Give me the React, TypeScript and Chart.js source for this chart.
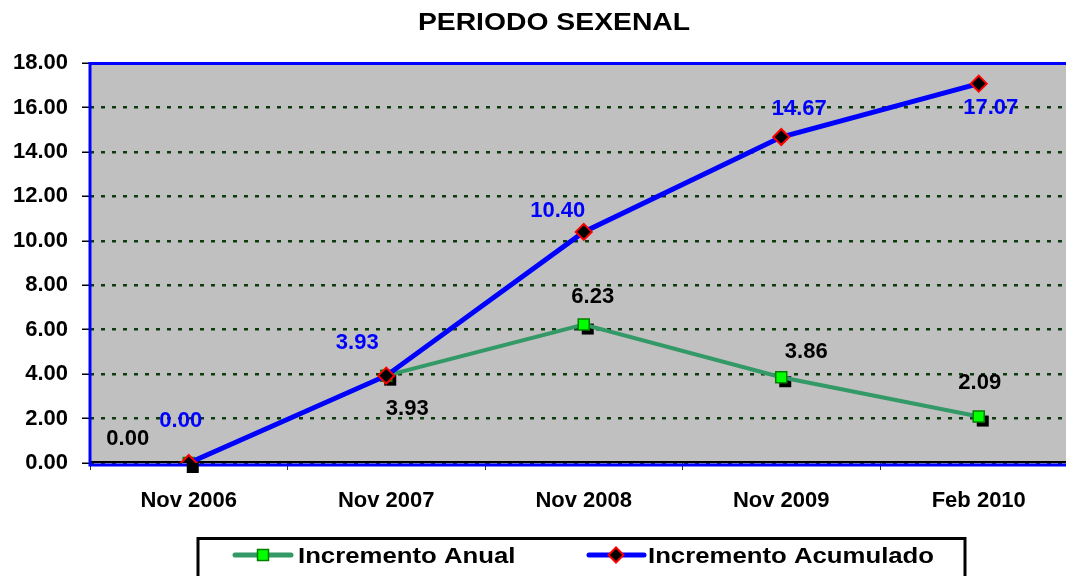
import React, { useEffect, useRef } from "react";
import { Chart, registerables } from "chart.js";

Chart.register(...registerables);

const chartTitle = "PERIODO SEXENAL";
const categories = ["Nov 2006", "Nov 2007", "Nov 2008", "Nov 2009", "Feb 2010"];
const seriesNames = ["Incremento Anual", "Incremento Acumulado"];
const incrementoAnual = [0, 3.93, 6.23, 3.86, 2.09];
const incrementoAcumulado = [0, 3.93, 10.4, 14.67, 17.07];
const yMin = 0;
const yMax = 18;
const yStep = 2;

// label placement (pixel offsets from each point), styling only
const anualLabelOffsets = [[-61, -24], [21, 33], [9, -28], [25, -25], [1, -34]];
const acumLabelOffsets = [[-8, -42], [-29, -33], [-26, -21], [18, -28], [12, 24]];

const FONT = '"Liberation Sans", Arial, Helvetica, sans-serif';
const GREEN_LINE = "#339966";
const BLUE = "#0000ff";

function drawSquare(ctx: CanvasRenderingContext2D, x: number, y: number, half: number) {
  ctx.beginPath();
  ctx.rect(x - half, y - half, half * 2, half * 2);
  ctx.fillStyle = "#00ff00";
  ctx.fill();
  ctx.lineWidth = 1.5;
  ctx.strokeStyle = "#008000";
  ctx.stroke();
}

function drawDiamond(ctx: CanvasRenderingContext2D, x: number, y: number, r: number) {
  ctx.beginPath();
  ctx.moveTo(x - r, y);
  ctx.lineTo(x, y - r);
  ctx.lineTo(x + r, y);
  ctx.lineTo(x, y + r);
  ctx.closePath();
  ctx.fillStyle = "#000";
  ctx.fill();
  ctx.lineWidth = 2;
  ctx.strokeStyle = "#ff0000";
  ctx.stroke();
}

const decorPlugin = {
  id: "decor",
  beforeDraw(chart: any) {
    const { ctx, chartArea: a } = chart;
    ctx.save();
    ctx.fillStyle = "#c0c0c0";
    ctx.fillRect(a.left, a.top, a.right - a.left, a.bottom - a.top + 2);
    ctx.restore();
  },
  beforeDatasetsDraw(chart: any) {
    const { ctx, chartArea: a } = chart;
    ctx.save();
    ctx.strokeStyle = "#000";
    ctx.lineWidth = 2;
    ctx.beginPath();
    ctx.moveTo(a.left, a.bottom - 1);
    ctx.lineTo(a.right, a.bottom - 1);
    ctx.stroke();
    ctx.strokeStyle = BLUE;
    ctx.lineWidth = 3;
    ctx.strokeRect(a.left, a.top + 0.5, a.right - a.left, a.bottom - a.top + 1.5);
    const meta = chart.getDatasetMeta(0);
    ctx.fillStyle = "#000";
    meta.data.forEach((el: any) => {
      ctx.fillRect(el.x - 2, el.y - 1, 12, 11);
    });
    ctx.restore();
  },
  afterDatasetsDraw(chart: any) {
    const { ctx } = chart;
    ctx.save();
    ctx.font = `bold 22px ${FONT}`;
    ctx.textAlign = "center";
    ctx.textBaseline = "middle";
    const m0 = chart.getDatasetMeta(0);
    m0.data.forEach((el: any, i: number) => {
      const [dx, dy] = anualLabelOffsets[i];
      ctx.fillStyle = "#000";
      ctx.fillText(incrementoAnual[i].toFixed(2), el.x + dx, el.y + dy);
    });
    const m1 = chart.getDatasetMeta(1);
    m1.data.forEach((el: any, i: number) => {
      const [dx, dy] = acumLabelOffsets[i];
      ctx.fillStyle = BLUE;
      ctx.fillText(incrementoAcumulado[i].toFixed(2), el.x + dx, el.y + dy);
    });
    ctx.restore();
  },
  afterDraw(chart: any) {
    const { ctx } = chart;
    ctx.save();
    ctx.fillStyle = "#000";
    ctx.font = `bold 24px ${FONT}`;
    ctx.textAlign = "center";
    ctx.textBaseline = "alphabetic";
    ctx.save();
    ctx.translate(554, 29.5);
    ctx.scale(1.18, 1);
    ctx.fillText(chartTitle, 0, 0);
    ctx.restore();

    ctx.strokeStyle = "#000";
    ctx.lineWidth = 3;
    ctx.strokeRect(198, 538.5, 767, 60);

    const ly = 555;
    ctx.lineCap = "round";
    ctx.strokeStyle = GREEN_LINE;
    ctx.lineWidth = 5;
    ctx.beginPath();
    ctx.moveTo(235, ly);
    ctx.lineTo(291, ly);
    ctx.stroke();
    drawSquare(ctx, 263, ly, 5.5);
    ctx.strokeStyle = BLUE;
    ctx.lineWidth = 5;
    ctx.beginPath();
    ctx.moveTo(589, ly);
    ctx.lineTo(644, ly);
    ctx.stroke();
    drawDiamond(ctx, 616, ly, 7.5);

    ctx.fillStyle = "#000";
    ctx.font = `bold 22px ${FONT}`;
    ctx.textAlign = "left";
    ctx.textBaseline = "alphabetic";
    ctx.save();
    ctx.translate(298, 563);
    ctx.scale(1.17, 1);
    ctx.fillText(seriesNames[0], 0, 0);
    ctx.restore();
    ctx.save();
    ctx.translate(648, 563);
    ctx.scale(1.17, 1);
    ctx.fillText(seriesNames[1], 0, 0);
    ctx.restore();
    ctx.restore();
  },
};

export default function App() {
  const ref = useRef<HTMLCanvasElement | null>(null);

  useEffect(() => {
    if (!ref.current) return;
    const chart = new Chart(ref.current, {
      type: "line",
      data: {
        labels: categories,
        datasets: [
          {
            label: seriesNames[0],
            data: incrementoAnual,
            borderColor: GREEN_LINE,
            borderWidth: 4,
            pointStyle: "rect",
            pointRadius: 7.8,
            pointBackgroundColor: "#00ff00",
            pointBorderColor: "#008000",
            pointBorderWidth: 1.5,
            tension: 0,
            order: 1,
          },
          {
            label: seriesNames[1],
            data: incrementoAcumulado,
            borderColor: BLUE,
            borderWidth: 5,
            pointStyle: "rectRot",
            pointRadius: 8,
            pointBackgroundColor: "#000000",
            pointBorderColor: "#ff0000",
            pointBorderWidth: 2,
            tension: 0,
            order: 0,
          },
        ],
      },
      options: {
        responsive: false,
        animation: false,
        devicePixelRatio: 1,
        layout: { padding: { top: 63, right: 22.5, left: 0, bottom: 0 } },
        plugins: {
          legend: { display: false },
          title: { display: false },
          tooltip: { enabled: false },
        },
        scales: {
          x: {
            type: "category",
            offset: true,
            afterFit: (s: any) => {
              s.height = 113;
            },
            grid: {
              offset: true,
              drawOnChartArea: false,
              drawTicks: true,
              tickLength: 7,
              tickColor: "#333",
              tickWidth: 1,
            },
            border: { display: false },
            ticks: {
              color: "#000",
              font: { family: FONT, size: 22, weight: "bold" },
              padding: 18,
              maxRotation: 0,
              autoSkip: false,
            },
          },
          y: {
            min: yMin,
            max: yMax,
            afterFit: (s: any) => {
              s.width = 90;
            },
            grid: {
              color: "#0d3b0d",
              lineWidth: 2.5,
              drawTicks: true,
              tickLength: 8,
              tickColor: "#000",
              tickWidth: 1.5,
              tickBorderDash: [],
            },
            border: { display: false, dash: [4, 7] },
            ticks: {
              stepSize: yStep,
              color: "#000",
              font: { family: FONT, size: 22, weight: "bold" },
              padding: 14,
              callback: (v: any) => Number(v).toFixed(2),
            },
          },
        },
      },
      plugins: [decorPlugin],
    } as any);
    return () => chart.destroy();
  }, []);

  return (
    <div
      style={{
        position: "fixed",
        left: 0,
        top: 0,
        width: 1066,
        height: 576,
        overflow: "hidden",
        background: "#fff",
      }}
    >
      <canvas ref={ref} width={1100} height={576} style={{ display: "block", width: 1100, height: 576 }} />
    </div>
  );
}
